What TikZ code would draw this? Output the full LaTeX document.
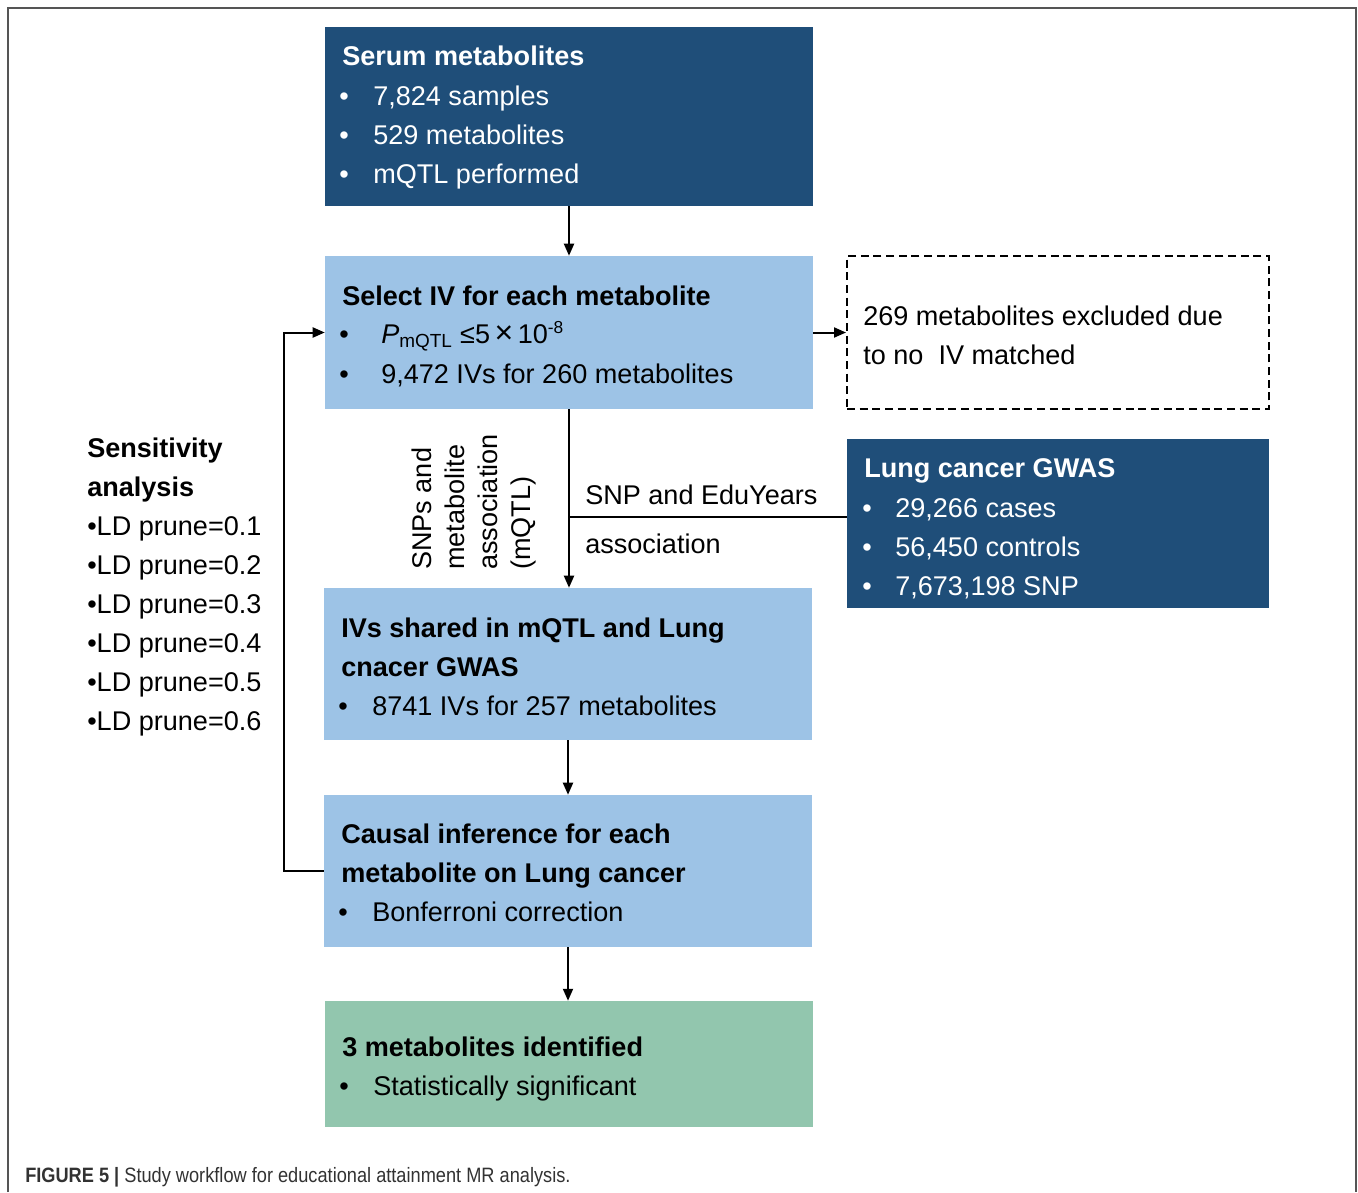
\documentclass[tikz,border=0pt]{standalone}
\usepackage{fontspec}
\setmainfont{Liberation Sans}
\newfontfamily\capfont[FakeStretch=0.875]{Liberation Sans}
\usetikzlibrary{arrows.meta,fit}
\definecolor{dblue}{RGB}{31,78,121}
\definecolor{lblue}{RGB}{157,195,230}
\definecolor{mgreen}{RGB}{146,198,174}
\definecolor{framegray}{RGB}{85,85,85}
\definecolor{capgray}{RGB}{50,50,50}
\newcommand{\fs}{\fontsize{20.3}{24}\selectfont}
\begin{document}
\begin{tikzpicture}[x=0.75pt,y=-0.75pt,
  dk/.style={fill=dblue,inner sep=0pt,draw=none},
  lt/.style={fill=lblue,inner sep=0pt,draw=none},
  gr/.style={fill=mgreen,inner sep=0pt,draw=none},
  tx/.style={anchor=base west,inner sep=0pt,font=\fs,yshift=0.75pt},
  bx/.style={tx,font=\fs\bfseries},
  wt/.style={tx,text=white},
  wb/.style={bx,text=white},
  conn/.style={line width=1.5pt,-{Triangle[length=9pt,width=7.5pt]}},
  plain/.style={line width=1.5pt}
]
\useasboundingbox (0,0) rectangle (1358,1192);
\draw[framegray,line width=1.2pt] (8,1192) -- (8,8) -- (1356,8) -- (1356,1192);

% boxes
\node[dk,fit={(325,27)(813,206)}] (serum) {};
\node[lt,fit={(325,256)(813,409)}] (select) {};
\node[draw,line width=1.5pt,dash pattern=on 6pt off 3.5pt,inner sep=0pt,fit={(847,256)(1269,409)}] (excl) {};
\node[dk,fit={(847,439)(1269,608)}] (gwas) {};
\node[lt,fit={(324,588)(812,740)}] (shared) {};
\node[lt,fit={(324,795)(812,947)}] (causal) {};
\node[gr,fit={(325,1001)(813,1127)}] (result) {};

% serum text
\node[wb] (s0) at (342,66) {Serum metabolites};
\node[wt] (sb1) at (339,106) {•};
\node[wt] (s1) at (373,106) {7,824 samples};
\node[wt] (sb2) at (339,145) {•};
\node[wt] (s2) at (373,145) {529 metabolites};
\node[wt] (sb3) at (339,184) {•};
\node[wt] (s3) at (373,184) {mQTL performed};

% select text
\node[bx] (v0) at (342,306) {Select IV for each metabolite};
\node[tx] (vb1) at (339,344) {•};
\node[tx] (v1) at (381,344) {\textit{P}\textsubscript{mQTL} ≤5\,{\fontsize{24}{24}\selectfont ×}\,10\raisebox{0.35em}{\fontsize{13}{13}\selectfont -8}};
\node[tx] (vb2) at (339,384) {•};
\node[tx] (v2) at (381,384) {9,472 IVs for 260 metabolites};

% excluded text
\node[tx] (e1) at (863,326) {269 metabolites excluded due};
\node[tx] (e2) at (863,365) {to no\ \ IV matched};

% gwas text
\node[wb] (g0) at (864,478) {Lung cancer GWAS};
\node[wt] (gb1) at (862,518) {•};
\node[wt] (g1) at (895,518) {29,266 cases};
\node[wt] (gb2) at (862,557) {•};
\node[wt] (g2) at (895,557) {56,450 controls};
\node[wt] (gb3) at (862,596) {•};
\node[wt] (g3) at (895,596) {7,673,198 SNP};

% shared text
\node[bx] (h0) at (341,638) {IVs shared in mQTL and Lung};
\node[bx] (h1) at (341,677) {cnacer GWAS};
\node[tx] (hb) at (338,716) {•};
\node[tx] (h2) at (372,716) {8741 IVs for 257 metabolites};

% causal text
\node[bx] (c0) at (341,844) {Causal inference for each};
\node[bx] (c1) at (341,883) {metabolite on Lung cancer};
\node[tx] (cb) at (338,922) {•};
\node[tx] (c2) at (372,922) {Bonferroni correction};

% result text
\node[bx] (r0) at (342,1057) {3 metabolites identified};
\node[tx] (rb) at (339,1096) {•};
\node[tx] (r1) at (373,1096) {Statistically significant};

% sensitivity
\node[bx] (k0) at (87,458) {Sensitivity};
\node[bx] (k1) at (87,497) {analysis};
\node[tx] (k2) at (87,536) {•LD prune=0.1};
\node[tx] (k3) at (87,575) {•LD prune=0.2};
\node[tx] (k4) at (87,614) {•LD prune=0.3};
\node[tx] (k5) at (87,653) {•LD prune=0.4};
\node[tx] (k6) at (87,692) {•LD prune=0.5};
\node[tx] (k7) at (87,731) {•LD prune=0.6};

% connector labels
\node[rotate=90,anchor=north west,align=left,inner sep=0pt,font=\fontsize{20.3}{24.75}\selectfont] (lbl1) at (412,570) {SNPs and\\metabolite\\association\\(mQTL)};
\node[tx] (lbl2) at (585,505) {SNP and EduYears};
\node[tx] (lbl3) at (585,554) {association};

% connectors
\coordinate (j) at (569,517);
\draw[conn] (serum.south) -- (select.north);
\draw[conn] (select.east) -- (excl.west);
\draw[conn] (select.south) -- (select.south |- shared.north);
\draw[plain] (gwas.west |- j) -- (j);
\draw[conn] (shared.south) -- (causal.north);
\draw[conn] (causal.south) -- (causal.south |- result.north);
\draw[conn] (causal.west) -- ++(-40,0) |- (select.west);

% caption
\node[anchor=base west,inner sep=0pt,text=capgray,font=\capfont\fontsize{15.6}{18}\selectfont] (cap) at (25,1182) {\textbf{FIGURE 5 |} Study workflow for educational attainment MR analysis.};
\end{tikzpicture}
\end{document}
